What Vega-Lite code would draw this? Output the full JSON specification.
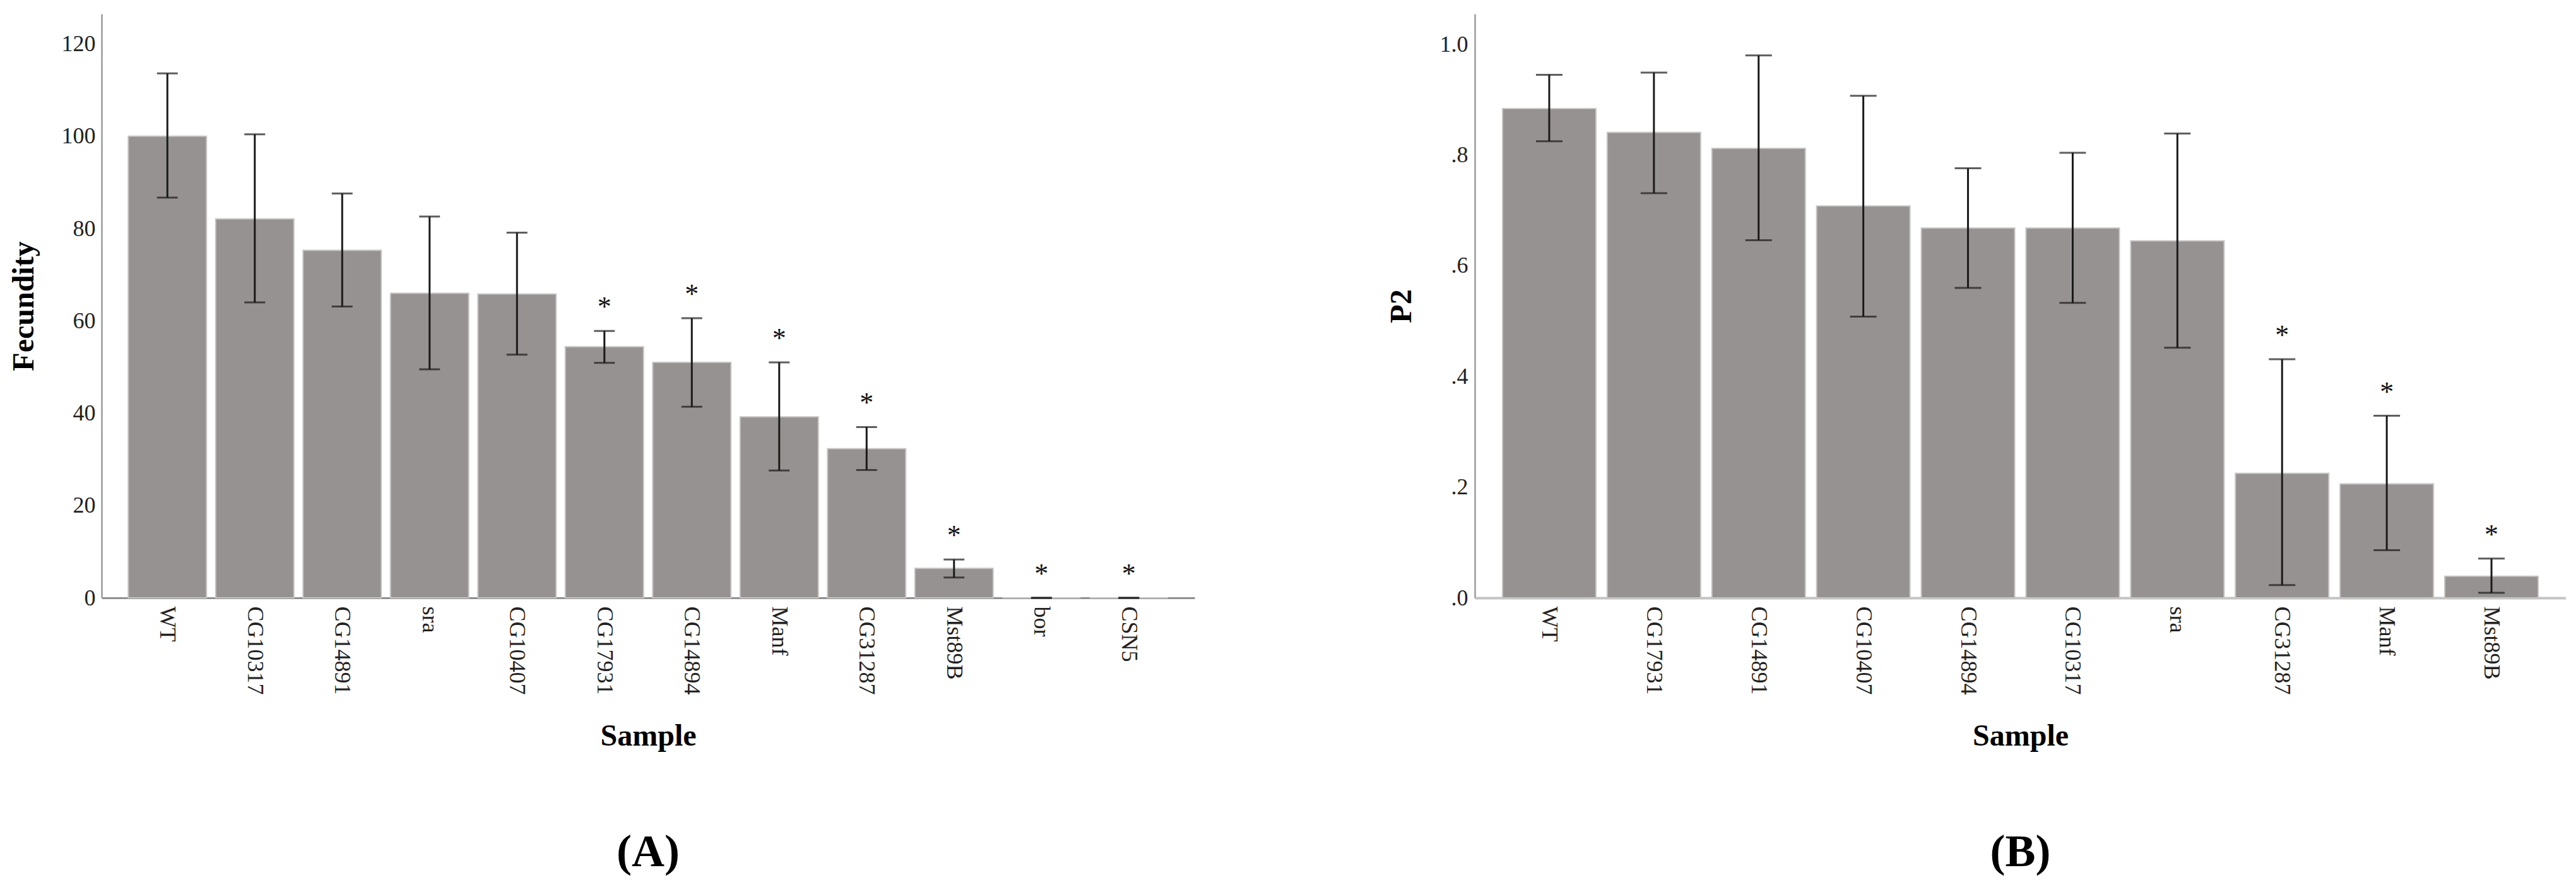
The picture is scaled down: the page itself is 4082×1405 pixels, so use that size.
{
  "$schema": "https://vega.github.io/schema/vega-lite/v6.json",
  "padding": {"left": 14, "top": 22, "right": 0, "bottom": 0},
  "background": "white",
  "spacing": 304,
  "config": {
    "view": {"stroke": null},
    "font": "Liberation Serif",
    "axis": {
      "labelFont": "Liberation Serif",
      "titleFont": "Liberation Serif",
      "labelFontSize": 36,
      "titleFontSize": 48,
      "titleFontWeight": "bold",
      "labelColor": "#222222",
      "titleColor": "#000000",
      "ticks": false,
      "tickSize": 0,
      "grid": false,
      "domainColor": "#ababab",
      "domainWidth": 3
    },
    "title": {"font": "Liberation Serif", "fontSize": 72, "fontWeight": "bold", "color": "#000000"}
  },
  "datasets": {
    "A": [
      {"Sample": "WT", "mean": 100.0, "lo": 86.7, "hi": 113.6, "sig": ""},
      {"Sample": "CG10317", "mean": 82.1, "lo": 64.0, "hi": 100.4, "sig": ""},
      {"Sample": "CG14891", "mean": 75.3, "lo": 63.1, "hi": 87.6, "sig": ""},
      {"Sample": "sra", "mean": 66.0, "lo": 49.5, "hi": 82.6, "sig": ""},
      {"Sample": "CG10407", "mean": 65.8, "lo": 52.7, "hi": 79.1, "sig": ""},
      {"Sample": "CG17931", "mean": 54.4, "lo": 50.9, "hi": 57.8, "sig": "*"},
      {"Sample": "CG14894", "mean": 51.0, "lo": 41.4, "hi": 60.6, "sig": "*"},
      {"Sample": "Manf", "mean": 39.2, "lo": 27.6, "hi": 51.0, "sig": "*"},
      {"Sample": "CG31287", "mean": 32.3, "lo": 27.7, "hi": 37.0, "sig": "*"},
      {"Sample": "Mst89B", "mean": 6.4, "lo": 4.4, "hi": 8.3, "sig": "*"},
      {"Sample": "bor", "mean": 0, "lo": 0, "hi": 0, "sig": "*"},
      {"Sample": "CSN5", "mean": 0, "lo": 0, "hi": 0, "sig": "*"}
    ],
    "B": [
      {"Sample": "WT", "mean": 0.884, "lo": 0.825, "hi": 0.945, "sig": ""},
      {"Sample": "CG17931", "mean": 0.841, "lo": 0.731, "hi": 0.949, "sig": ""},
      {"Sample": "CG14891", "mean": 0.812, "lo": 0.646, "hi": 0.980, "sig": ""},
      {"Sample": "CG10407", "mean": 0.708, "lo": 0.508, "hi": 0.907, "sig": ""},
      {"Sample": "CG14894", "mean": 0.668, "lo": 0.560, "hi": 0.776, "sig": ""},
      {"Sample": "CG10317", "mean": 0.668, "lo": 0.533, "hi": 0.804, "sig": ""},
      {"Sample": "sra", "mean": 0.645, "lo": 0.452, "hi": 0.839, "sig": ""},
      {"Sample": "CG31287", "mean": 0.225, "lo": 0.023, "hi": 0.431, "sig": "*"},
      {"Sample": "Manf", "mean": 0.206, "lo": 0.086, "hi": 0.329, "sig": "*"},
      {"Sample": "Mst89B", "mean": 0.039, "lo": 0.009, "hi": 0.071, "sig": "*"}
    ]
  },
  "hconcat": [
    {
      "width": 1732,
      "height": 925,
      "data": {"name": "A"},
      "title": {"text": "(A)", "orient": "bottom", "anchor": "middle", "offset": 125},
      "encoding": {
        "x": {
          "field": "Sample", "type": "nominal", "sort": null,
          "scale": {"paddingInner": 0.105, "paddingOuter": 0.305},
          "axis": {"title": "Sample", "labelAngle": 90, "labelPadding": 13, "titlePadding": 42, "domainColor": "#8f8f8f"}
        }
      },
      "layer": [
        {
          "mark": {"type": "bar", "color": "#979292", "stroke": "#c8c4c4", "strokeWidth": 2},
          "encoding": {
            "y": {"field": "mean", "type": "quantitative", "title": "Fecundity",
              "scale": {"domain": [0, 126.5], "nice": false, "zero": true},
              "axis": {"values": [0, 20, 40, 60, 80, 100, 120], "labelPadding": 10, "titlePadding": 35}}
          }
        },
        {
          "mark": {"type": "rule", "color": "#1a1a1a", "strokeWidth": 3},
          "encoding": {
            "y": {"field": "lo", "type": "quantitative", "title": "Fecundity"},
            "y2": {"field": "hi"}
          }
        },
        {
          "mark": {"type": "tick", "orient": "horizontal", "color": "#1a1a1a", "size": 33, "thickness": 3},
          "encoding": {"y": {"field": "lo", "type": "quantitative", "title": "Fecundity"}}
        },
        {
          "mark": {"type": "tick", "orient": "horizontal", "color": "#1a1a1a", "size": 33, "thickness": 3},
          "encoding": {"y": {"field": "hi", "type": "quantitative", "title": "Fecundity"}}
        },
        {
          "mark": {"type": "text", "fontSize": 44, "dy": -24, "baseline": "alphabetic", "color": "#111111", "font": "Liberation Serif"},
          "encoding": {
            "y": {"field": "hi", "type": "quantitative", "title": "Fecundity"},
            "text": {"field": "sig"}
          }
        }
      ]
    },
    {
      "width": 1729,
      "height": 925,
      "data": {"name": "B"},
      "title": {"text": "(B)", "orient": "bottom", "anchor": "middle", "offset": 125},
      "encoding": {
        "x": {
          "field": "Sample", "type": "nominal", "sort": null,
          "scale": {"paddingInner": 0.108, "paddingOuter": 0.265},
          "axis": {"title": "Sample", "labelAngle": 90, "labelPadding": 13, "titlePadding": 42, "domainColor": "#c4c4c4", "domainWidth": 4}
        }
      },
      "layer": [
        {
          "mark": {"type": "bar", "color": "#979292", "stroke": "#c8c4c4", "strokeWidth": 2},
          "encoding": {
            "y": {"field": "mean", "type": "quantitative", "title": "P2",
              "scale": {"domain": [0, 1.055], "nice": false, "zero": true},
              "axis": {"values": [0, 0.2, 0.4, 0.6, 0.8, 1.0], "labelExpr": "replace(format(datum.value, '.1f'), '0.', '.')", "labelPadding": 11, "titlePadding": 36}}
          }
        },
        {
          "mark": {"type": "rule", "color": "#1a1a1a", "strokeWidth": 3},
          "encoding": {
            "y": {"field": "lo", "type": "quantitative", "title": "P2"},
            "y2": {"field": "hi"}
          }
        },
        {
          "mark": {"type": "tick", "orient": "horizontal", "color": "#1a1a1a", "size": 42, "thickness": 3},
          "encoding": {"y": {"field": "lo", "type": "quantitative", "title": "P2"}}
        },
        {
          "mark": {"type": "tick", "orient": "horizontal", "color": "#1a1a1a", "size": 42, "thickness": 3},
          "encoding": {"y": {"field": "hi", "type": "quantitative", "title": "P2"}}
        },
        {
          "mark": {"type": "text", "fontSize": 44, "dy": -24, "baseline": "alphabetic", "color": "#111111", "font": "Liberation Serif"},
          "encoding": {
            "y": {"field": "hi", "type": "quantitative", "title": "P2"},
            "text": {"field": "sig"}
          }
        }
      ]
    }
  ]
}
